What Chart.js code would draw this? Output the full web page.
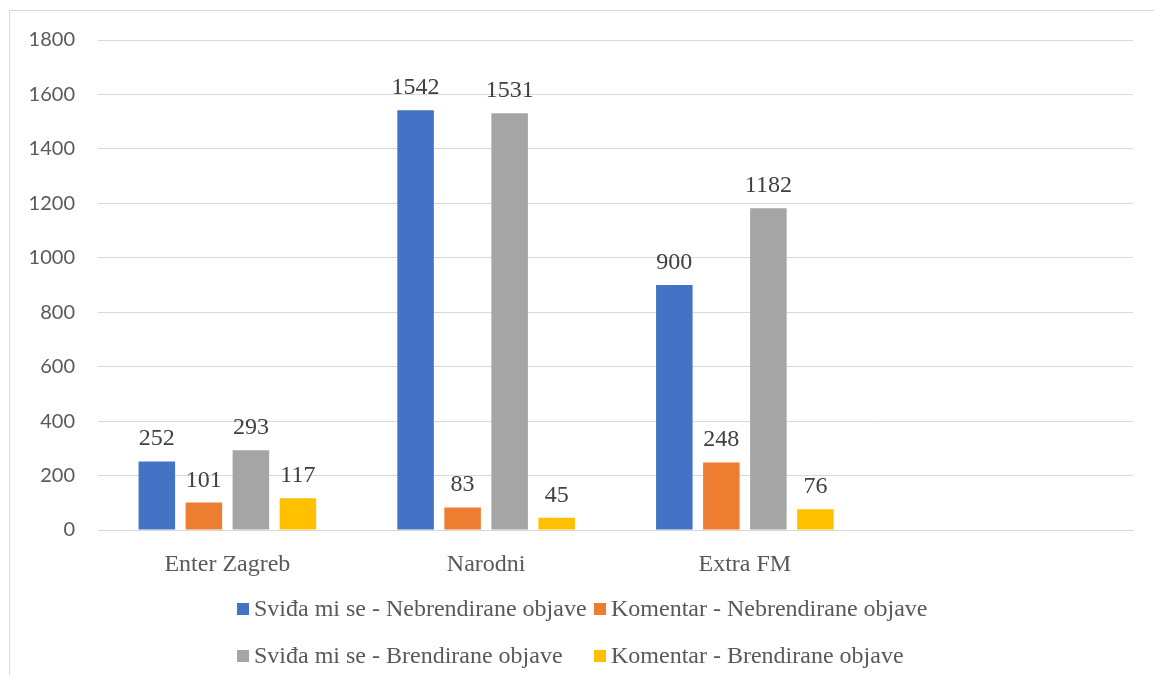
<!DOCTYPE html>
<html>
<head>
<meta charset="utf-8">
<script src="https://cdn.jsdelivr.net/npm/chart.js@4.4.1/dist/chart.umd.min.js"></script>
<style>
  html, body { margin: 0; padding: 0; background: #fff; }
  #wrap { position: relative; width: 1154px; height: 675px; overflow: hidden; }
  #frame { position: absolute; left: 9px; top: 10px; width: 1200px; height: 700px;
           border-top: 1px solid #d9d9d9; border-left: 1px solid #d9d9d9; }
  canvas { position: absolute; left: 0; top: 0; }
  #legend { position: absolute; left: 237px; top: 585px;
            display: grid; grid-template-columns: 357px 357px;
            font-family: "Liberation Serif", "Times New Roman", serif;
            font-size: 24px; color: #595959; }
  #legend .item { height: 47px; line-height: 47px; white-space: nowrap; display: flex; align-items: center; }
  #legend .box { width: 12px; height: 12px; margin-right: 5px; flex: none; }
</style>
</head>
<body>
<div id="wrap">
  <div id="frame"></div>
  <canvas id="c" width="1154" height="675"></canvas>
  <div id="legend"></div>
</div>
<script>
// categories (4th slot is empty in the original)
const categories = ['Enter Zagreb', 'Narodni', 'Extra FM', ''];

const seriesNames = [
  'Sviđa mi se - Nebrendirane objave',
  'Komentar - Nebrendirane objave',
  'Sviđa mi se - Brendirane objave',
  'Komentar - Brendirane objave'
];

const likesUnbranded = [252, 1542, 900, null];
const commentsUnbranded = [101, 83, 248, null];
const likesBranded = [293, 1531, 1182, null];
const commentsBranded = [117, 45, 76, null];

const yTicks = [0, 200, 400, 600, 800, 1000, 1200, 1400, 1600, 1800];

const colors = ['#4472C4', '#ED7D31', '#A5A5A5', '#FFC000'];
const seriesData = [likesUnbranded, commentsUnbranded, likesBranded, commentsBranded];

const valueLabels = {
  id: 'valueLabels',
  afterDatasetsDraw(chart) {
    const ctx = chart.ctx;
    ctx.save();
    ctx.font = '24px "Liberation Serif", "Times New Roman", serif';
    ctx.fillStyle = '#404040';
    ctx.textAlign = 'center';
    ctx.textBaseline = 'alphabetic';
    chart.data.datasets.forEach((ds, i) => {
      chart.getDatasetMeta(i).data.forEach((bar, j) => {
        const v = ds.data[j];
        if (v == null) return;
        ctx.fillText(String(v), bar.x, bar.y - 16);
      });
    });
    ctx.restore();
  }
};

const chart = new Chart(document.getElementById('c'), {
  type: 'bar',
  data: {
    labels: categories,
    datasets: seriesNames.map((name, i) => ({
      label: name,
      data: seriesData[i],
      backgroundColor: colors[i],
      categoryPercentage: 0.727,
      barPercentage: 0.777
    }))
  },
  options: {
    responsive: false,
    animation: false,
    layout: { padding: { top: 40, right: 21, bottom: 0, left: 0 } },
    plugins: {
      legend: { display: false },
      tooltip: { enabled: false }
    },
    scales: {
      x: {
        grid: { display: false },
        border: { color: '#d9d9d9' },
        ticks: {
          color: '#595959',
          padding: 12,
          font: { family: '"Liberation Serif", "Times New Roman", serif', size: 24 }
        },
        afterFit: (s) => { s.height = 145; }
      },
      y: {
        min: 0,
        max: 1800,
        afterBuildTicks: (s) => { s.ticks = yTicks.map(v => ({ value: v })); },
        grid: { color: '#d9d9d9', lineWidth: 1, drawTicks: false },
        border: { display: false },
        ticks: {
          color: '#595959',
          padding: 23,
          font: { family: 'Lato, "Liberation Sans", sans-serif', size: 20 },
          callback: (v) => String(v)
        },
        afterFit: (s) => { s.width = 98; }
      }
    }
  },
  plugins: [valueLabels]
});

// legend as real text, laid out in two columns like the original
const legend = document.getElementById('legend');
chart.data.datasets.forEach((ds) => {
  const item = document.createElement('div');
  item.className = 'item';
  const box = document.createElement('span');
  box.className = 'box';
  box.style.background = ds.backgroundColor;
  const txt = document.createElement('span');
  txt.textContent = ds.label;
  item.appendChild(box);
  item.appendChild(txt);
  legend.appendChild(item);
});
</script>
</body>
</html>
